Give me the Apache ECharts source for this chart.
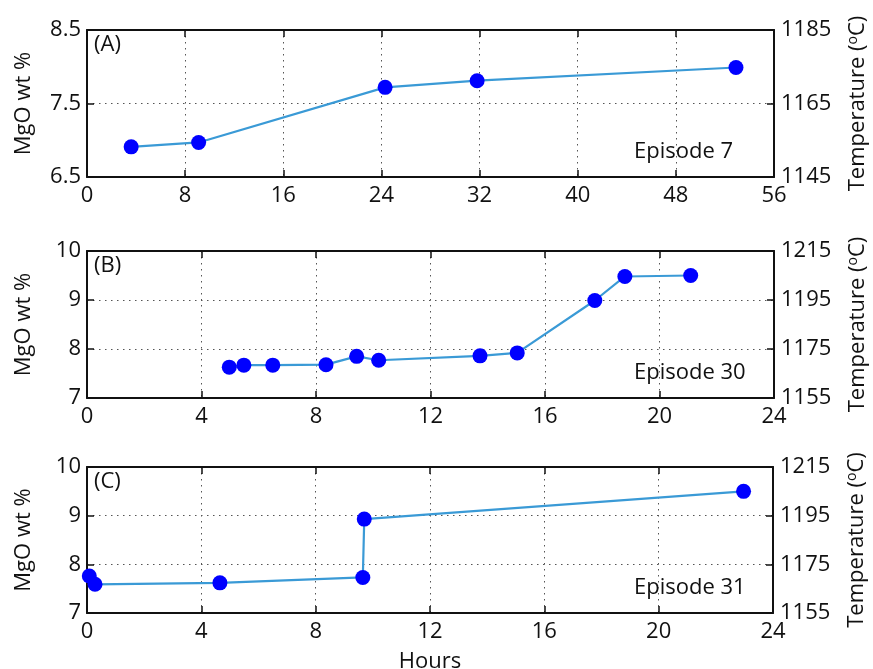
<!DOCTYPE html>
<html>
<head>
<meta charset="utf-8">
<script src="https://cdn.jsdelivr.net/npm/echarts@6/dist/echarts.min.js"></script>
<style>
  html, body { margin: 0; padding: 0; background: #fff; }
  #chart { width: 873px; height: 669px; }
</style>
</head>
<body>
<div id="chart"></div>
<script>
// Episode 7 (panel A)
const ep7Hours = [3.6, 9.1, 24.3, 31.8, 52.9];
const ep7MgO   = [6.91, 6.97, 7.72, 7.81, 7.99];
// Episode 30 (panel B)
const ep30Hours = [4.97, 5.48, 6.49, 8.35, 9.42, 10.19, 13.73, 15.03, 17.74, 18.79, 21.09];
const ep30MgO   = [7.63, 7.67, 7.67, 7.68, 7.85, 7.77, 7.86, 7.92, 8.99, 9.48, 9.50];
// Episode 31 (panel C)
const ep31Hours = [0.08, 0.28, 4.65, 9.65, 9.70, 22.97];
const ep31MgO   = [7.76, 7.59, 7.62, 7.73, 8.93, 9.50];

const panelLetters = ['(A)', '(B)', '(C)'];
const episodeNames = ['Episode 7', 'Episode 30', 'Episode 31'];

const FONT = 'Open Sans';
const FS = 22;
const BLACK = '#111';

const grids = [
  { left: 87, right: 99, top: 30, height: 147, outerBoundsMode: 'none' },
  { left: 87, right: 99, top: 251, height: 147, outerBoundsMode: 'none' },
  { left: 87, right: 100, top: 467, height: 146, outerBoundsMode: 'none' }
];
const xRanges = [[0, 56, 8], [0, 24, 4], [0, 24, 4]];
const mgoRanges = [[6.5, 8.5, 1], [7, 10, 1], [7, 10, 1]];
const tempRanges = [[1145, 1185, 20], [1155, 1215, 20], [1155, 1215, 20]];

const seriesData = [
  ep7Hours.map((h, i) => [h, ep7MgO[i]]),
  ep30Hours.map((h, i) => [h, ep30MgO[i]]),
  ep31Hours.map((h, i) => [h, ep31MgO[i]])
];

const xAxes = [], yAxes = [], series = [], graphics = [];
const lineStyle = { color: BLACK, width: 2 };
const tickStyle = { show: true, inside: true, length: 7, lineStyle: { color: BLACK, width: 1.5 } };
const gridLine = { show: true, lineStyle: { color: '#555', type: [1.5, 4.5], width: 1 } };
const labelStyle = { color: BLACK, fontFamily: FONT, fontSize: FS, formatter: v => String(v) };
const nameStyle = { color: BLACK, fontFamily: FONT, fontSize: FS };

grids.forEach((g, i) => {
  const [xmin, xmax, xint] = xRanges[i];
  // bottom x axis with labels
  xAxes.push({
    type: 'value', gridIndex: i, position: 'bottom', min: xmin, max: xmax, interval: xint,
    axisLine: { show: true, onZero: false, lineStyle },
    axisTick: tickStyle,
    axisLabel: Object.assign({ margin: 8, showMinLabel: true, showMaxLabel: true }, labelStyle),
    splitLine: gridLine,
    name: i === 2 ? 'Hours' : '',
    nameLocation: 'middle', nameGap: 38,
    nameTextStyle: nameStyle
  });
  // top x axis closing the box
  xAxes.push({
    type: 'value', gridIndex: i, position: 'top', min: xmin, max: xmax, interval: xint,
    axisLine: { show: true, onZero: false, lineStyle },
    axisTick: tickStyle, axisLabel: { show: false }, splitLine: { show: false }
  });
  const [ymin, ymax, yint] = mgoRanges[i];
  yAxes.push({
    type: 'value', gridIndex: i, position: 'left', min: ymin, max: ymax, interval: yint,
    axisLine: { show: true, onZero: false, lineStyle },
    axisTick: tickStyle,
    axisLabel: Object.assign({ margin: 6, showMinLabel: true, showMaxLabel: true }, labelStyle),
    splitLine: gridLine,
    name: 'MgO wt %', nameLocation: 'middle', nameGap: 52,
    nameTextStyle: nameStyle
  });
  const [tmin, tmax, tint] = tempRanges[i];
  yAxes.push({
    type: 'value', gridIndex: i, position: 'right', min: tmin, max: tmax, interval: tint,
    axisLine: { show: true, onZero: false, lineStyle },
    axisTick: tickStyle,
    axisLabel: Object.assign({ margin: 7, showMinLabel: true, showMaxLabel: true }, labelStyle),
    splitLine: { show: false },
    name: 'Temperature ({sup|o}C)', nameLocation: 'middle', nameGap: 72, nameRotate: 90,
    nameTextStyle: Object.assign({
      rich: { sup: { fontFamily: FONT, fontSize: 14, color: BLACK, verticalAlign: 'top', padding: [0, 0, 9, 0] } }
    }, nameStyle)
  });
  series.push({
    type: 'line', xAxisIndex: i * 2, yAxisIndex: i * 2, data: seriesData[i],
    symbol: 'circle', symbolSize: 15,
    itemStyle: { color: '#0000ff', borderWidth: 0 },
    lineStyle: { color: '#3a9ad6', width: 2.2 },
    animation: false, z: 3
  });
  graphics.push({
    type: 'text', left: 94, top: g.top + 4,
    style: { text: panelLetters[i], fill: BLACK, font: `${FS}px "${FONT}"` }
  });
  graphics.push({
    type: 'text', left: 634, top: g.top + g.height - 36,
    style: { text: episodeNames[i], fill: BLACK, font: `${FS}px "${FONT}"` }
  });
});

const chart = echarts.init(document.getElementById('chart'), null, { renderer: 'canvas' });
chart.setOption({
  animation: false,
  backgroundColor: '#fff',
  grid: grids,
  xAxis: xAxes,
  yAxis: yAxes,
  series,
  graphic: graphics
});
</script>
</body>
</html>
